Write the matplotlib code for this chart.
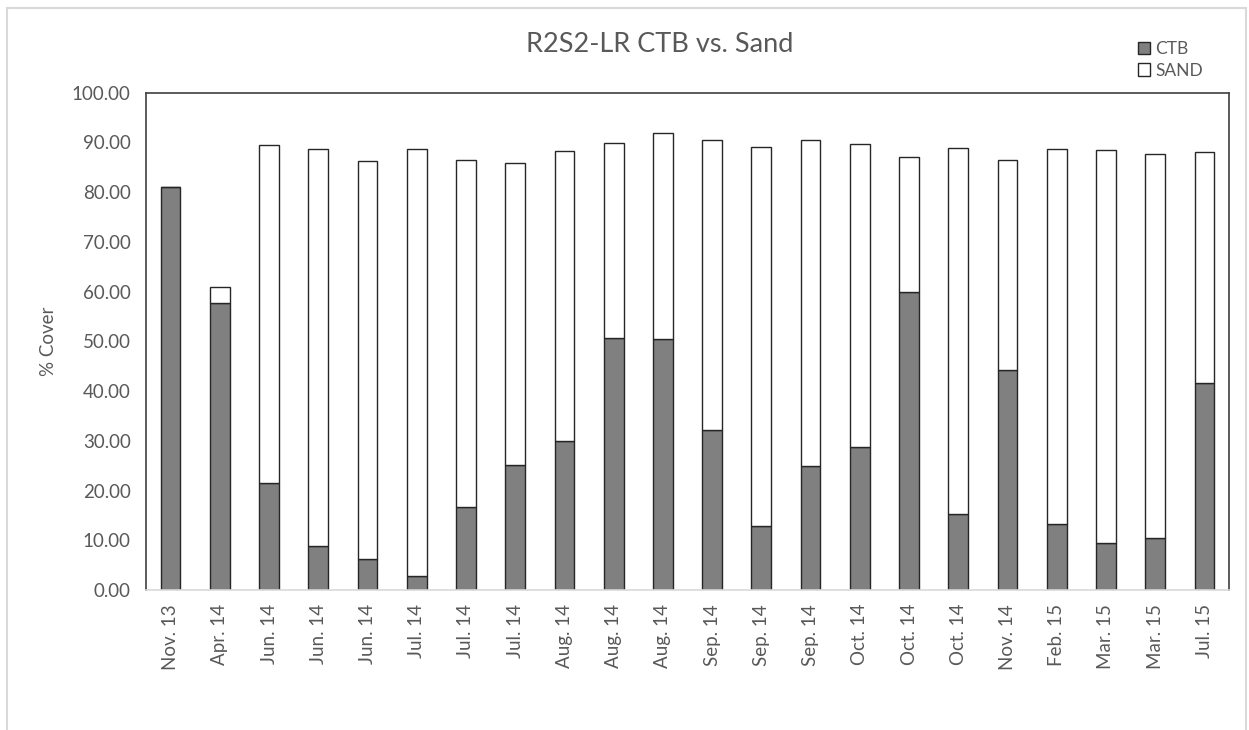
import matplotlib
matplotlib.use('Agg')
import matplotlib.pyplot as plt
from matplotlib.patches import Rectangle, Patch
import numpy as np

plt.rcParams['font.family'] = ['Lato', 'DejaVu Sans']

dates = ['Nov. 13', 'Apr. 14', 'Jun. 14', 'Jun. 14', 'Jun. 14', 'Jul. 14',
         'Jul. 14', 'Jul. 14', 'Aug. 14', 'Aug. 14', 'Aug. 14', 'Sep. 14',
         'Sep. 14', 'Sep. 14', 'Oct. 14', 'Oct. 14', 'Oct. 14', 'Nov. 14',
         'Feb. 15', 'Mar. 15', 'Mar. 15', 'Jul. 15']
ctb = [81.1, 57.7, 21.5, 8.8, 6.3, 2.8, 16.6, 25.2, 30.0, 50.6, 50.4, 32.2,
       12.9, 25.0, 28.8, 59.9, 15.3, 44.2, 13.3, 9.4, 10.5, 41.6]
total = [81.1, 61.0, 89.5, 88.6, 86.3, 88.6, 86.5, 85.8, 88.2, 89.9, 91.8,
         90.4, 89.1, 90.4, 89.7, 87.1, 88.9, 86.5, 88.7, 88.4, 87.7, 88.0]
sand = [t - c for t, c in zip(total, ctb)]

txt = '#595959'
edge = '#262626'

fig = plt.figure(figsize=(12.49, 7.30), dpi=100)
fig.patches.append(Rectangle((7 / 1249, -0.05), 1239 / 1249, 1.05 - 8 / 730,
                             transform=fig.transFigure, fill=False,
                             edgecolor='#d9d9d9', linewidth=1.5))
ax = fig.add_axes([146 / 1249, 1 - 590 / 730, 1083 / 1249, (590 - 92.7) / 730])

x = np.arange(len(dates))
ax.bar(x, ctb, width=0.4, color='#808080', edgecolor=edge, linewidth=1, label='CTB')
ax.bar(x, sand, width=0.4, bottom=ctb, color='white', edgecolor=edge,
       linewidth=1, label='SAND')

ax.set_xlim(-0.5, len(dates) - 0.5)
ax.set_ylim(0, 100)
ax.set_yticks(np.arange(0, 101, 10))
ax.set_yticklabels(['%.2f' % v for v in np.arange(0, 101, 10)])
ax.set_xticks(x)
ax.set_xticklabels(dates, rotation=90)
ax.tick_params(axis='both', length=0, colors=txt, labelsize=13.5)
ax.tick_params(axis='y', pad=11)
ax.tick_params(axis='x', pad=10)

for s in ['left', 'top', 'right']:
    ax.spines[s].set_color('#404040')
    ax.spines[s].set_linewidth(1.2)
ax.spines['bottom'].set_color('#d9d9d9')
ax.spines['bottom'].set_linewidth(1.2)

ax.set_ylabel('% Cover', color=txt, fontsize=13.5)
ax.yaxis.set_label_coords(-0.082, 0.5)
fig.text(660 / 1249, 1 - 45 / 730, 'R2S2-LR CTB vs. Sand', color=txt,
         fontsize=19.5, ha='center', va='center')

handles = [Patch(facecolor='#808080', edgecolor=edge, linewidth=1),
           Patch(facecolor='white', edgecolor=edge, linewidth=1)]
fig.legend(handles, ['CTB', 'SAND'], loc='center left',
           bbox_to_anchor=(1122 / 1249, 1 - 60 / 730), frameon=False,
           handlelength=0.7, handleheight=0.7, handletextpad=0.3,
           labelspacing=0.3, fontsize=12.5, labelcolor=txt)

fig.savefig('out.png', dpi=100)
